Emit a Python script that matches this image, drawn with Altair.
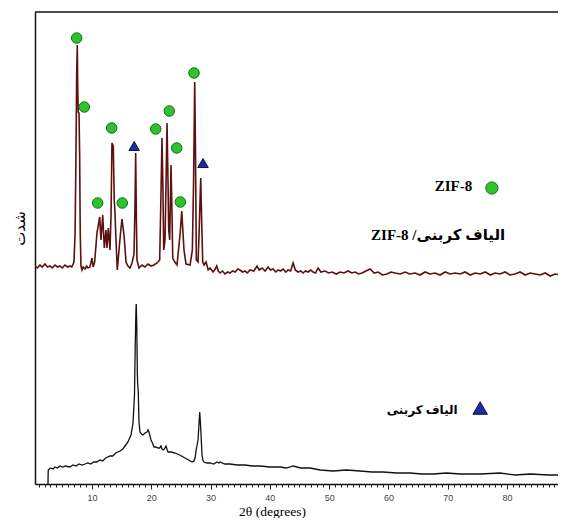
import altair as alt
import pandas as pd

# ---- data (2θ in degrees, intensity in arbitrary units) ----
zif_cf_2theta = [0.38, 0.8, 1.23, 1.6, 2.07, 2.5, 2.91, 3.3, 3.76, 4.2, 4.6, 5.0, 5.44, 5.9, 6.29, 6.6, 6.96, 7.15, 7.30, 7.42, 7.52, 7.60, 7.68, 7.81, 7.92, 8.02, 8.14, 8.31, 8.5, 8.82, 9.1, 9.33, 9.66, 10.0, 10.2, 10.45, 10.84, 11.05, 11.30, 11.52, 11.81, 12.08, 12.36, 12.53, 12.75, 13.04, 13.22, 13.37, 13.59, 13.76, 13.88, 14.05, 14.27, 14.56, 14.8, 15.06, 15.40, 15.74, 16.07, 16.41, 16.75, 17.09, 17.26, 17.37, 17.48, 17.59, 17.93, 18.44, 18.94, 19.45, 19.96, 20.46, 20.97, 21.42, 21.64, 21.81, 21.98, 22.10, 22.32, 22.49, 22.66, 22.83, 22.94, 23.11, 23.33, 23.50, 23.62, 23.96, 24.34, 24.68, 24.93, 25.14, 25.36, 25.52, 25.86, 26.54, 26.93, 27.13, 27.33, 27.46, 27.60, 27.89, 28.06, 28.34, 28.51, 28.68, 28.90, 29.24, 29.6, 29.91, 30.42, 30.8, 31.04, 31.3, 31.60, 32.0, 32.44, 32.9, 33.29, 33.7, 34.13, 34.6, 34.97, 35.4, 35.82, 36.2, 36.66, 37.3, 37.84, 38.2, 38.69, 39.2, 39.70, 40.1, 40.54, 41.0, 41.39, 41.8, 42.23, 42.7, 43.07, 43.5, 43.92, 44.3, 44.76, 45.2, 45.61, 46.0, 46.45, 46.9, 47.29, 47.7, 48.14, 48.6, 49.32, 49.9, 50.50, 51.2, 51.85, 52.5, 53.20, 53.8, 54.38, 55.0, 55.56, 56.2, 56.91, 57.6, 58.26, 59.0, 59.78, 60.4, 61.13, 62.0, 62.82, 63.6, 64.51, 65.3, 66.19, 67.0, 67.88, 68.7, 69.57, 70.4, 71.26, 72.1, 72.94, 73.8, 74.63, 75.5, 76.32, 77.2, 78.01, 78.8, 79.69, 80.5, 81.38, 82.2, 83.07, 83.9, 84.76, 85.6, 86.44, 87.3, 88.13, 89.0, 89.82]
zif_cf_intensity = [218, 216, 219, 217, 220, 217, 218, 216, 219, 217, 218, 216, 219, 217, 218, 217, 222, 250, 330, 410, 439, 395, 372, 371, 330, 250, 218, 214, 217, 215, 218, 216, 217, 226, 217, 222, 251, 258, 267, 244, 269, 236, 254, 236, 256, 234, 270, 341, 338, 284, 271, 244, 214, 234, 250, 265, 249, 222, 218, 216, 221, 230, 280, 331, 270, 224, 216, 219, 217, 220, 218, 219, 221, 224, 290, 346, 290, 234, 244, 300, 361, 300, 254, 244, 319, 270, 226, 222, 219, 239, 255, 273, 250, 234, 220, 219, 234, 300, 402, 330, 224, 222, 250, 306, 260, 222, 219, 222, 214, 216, 212, 215, 218, 213, 211, 213, 210, 212, 211, 213, 212, 215, 214, 212, 213, 211, 214, 213, 218, 214, 216, 213, 217, 214, 215, 212, 214, 213, 215, 212, 214, 213, 221, 214, 212, 213, 211, 213, 212, 214, 212, 211, 216, 212, 213, 211, 212, 210, 212, 211, 213, 211, 212, 210, 211, 213, 215, 211, 212, 209, 210, 212, 211, 210, 212, 210, 211, 209, 212, 210, 211, 209, 212, 210, 211, 210, 212, 209, 211, 210, 212, 209, 211, 210, 212, 209, 210, 212, 209, 211, 210, 209, 211, 208, 210, 209, 210]

cf_2theta = [2.58, 2.62, 3.0, 3.4, 3.76, 4.2, 4.60, 5.1, 5.5, 6.29, 6.8, 7.3, 7.8, 8.3, 8.82, 9.3, 9.8, 10.3, 10.8, 11.35, 11.8, 12.3, 13.04, 13.5, 14.0, 14.73, 15.2, 15.57, 16.07, 16.58, 16.92, 17.17, 17.30, 17.42, 17.47, 17.55, 17.65, 17.71, 17.81, 17.93, 18.10, 18.35, 18.61, 18.95, 19.28, 19.45, 19.62, 19.96, 20.2, 20.46, 20.8, 21.14, 21.4, 21.64, 21.8, 21.98, 22.2, 22.49, 22.7, 22.83, 23.4, 24.01, 24.8, 25.69, 26.3, 26.87, 27.2, 27.38, 27.6, 27.89, 28.05, 28.17, 28.3, 28.39, 28.56, 28.7, 28.90, 29.4, 29.91, 30.5, 31.09, 31.4, 31.60, 32.4, 33.29, 34.5, 35.82, 37.0, 38.35, 40.0, 41.73, 42.8, 43.92, 45.2, 46.79, 48.5, 50.67, 52.9, 55.23, 57.2, 59.11, 61.4, 63.66, 65.6, 67.54, 69.8, 72.10, 75.5, 78.85, 81.4, 83.91, 87.0, 89.99]
cf_intensity = [0, 14, 16, 15, 17, 16, 18, 17, 18, 17, 19, 18, 20, 19, 20, 21, 20, 22, 22, 24, 23, 26, 28, 28, 31, 33, 35, 38, 42, 49, 61, 89, 140, 175, 180, 160, 110, 100, 92, 62, 52, 50, 49, 51, 52, 54, 52, 44, 41, 37, 37, 36, 36, 38, 35, 34, 35, 38, 34, 32, 32, 31, 29, 26, 24, 22, 23, 26, 35, 44, 60, 72, 60, 50, 29, 24, 22, 21, 21, 20, 22, 21, 22, 20, 20, 19, 19, 18, 18, 17, 17, 16, 18, 16, 16, 14, 13, 14, 13, 12, 12, 11, 11, 10, 10, 11, 10, 10, 11, 9, 10, 9, 9]

zif_peak_2theta = [7.42, 8.70, 10.96, 13.32, 15.11, 20.75, 23.04, 24.29, 24.90, 27.21]
zif_peak_intensity = [446, 377, 281, 356, 281, 355, 373, 336, 282, 411]
cf_peak_2theta = [17.12, 28.73]
cf_peak_intensity = [338, 321]

legend_circle = {"x": [77.45], "y": [296]}
legend_triangle = {"x": [75.47], "y": [76]}
label_zif = {"x": [74.12], "y": [298], "t": ["ZIF-8"]}
label_comp = {"x": [68.39], "y": [249], "t": ["ZIF-8 /الیاف کربنی"]}
label_cf = {"x": [65.69], "y": [74], "t": ["الیاف کربنی"]}

x_ticks = list(range(1, 89))

W, H = 523, 472

X = alt.X(
    "x:Q",
    scale=alt.Scale(domain=[0.39, 88.6], nice=False, zero=False),
    axis=alt.Axis(
        values=x_ticks,
        labelExpr="datum.value % 10 === 0 ? datum.label : ''",
        labelOverlap=False,
        tickSize={"condition": {"test": "datum.value % 10 === 0", "value": 5}, "value": 3},
        tickColor="#222",
        tickWidth=1,
        grid=False,
        domainColor="#111",
        domainWidth=1.5,
        labelFont="Liberation Sans",
        labelFontSize=9,
        labelColor="#444",
        labelPadding=4,
        title="2θ (degrees)",
        titleFont="Liberation Serif",
        titleFontSize=13.5,
        titleFontWeight="normal",
        titleColor="#000",
        titleX=237,
        titleY=27,
        titleBaseline="middle",
    ),
)
Y = alt.Y(
    "y:Q",
    scale=alt.Scale(domain=[0, 472], nice=False, zero=False),
    axis=alt.Axis(
        labels=False,
        ticks=False,
        grid=False,
        domainColor="#111",
        domainWidth=1.5,
        title="شدت",
        titleFont="Liberation Serif, DejaVu Sans",
        titleFontSize=15,
        titleFontWeight="normal",
        titleColor="#000",
        titlePadding=8,
        titleY=216,
    ),
)

up = pd.DataFrame({"x": zif_cf_2theta, "y": zif_cf_intensity})
low = pd.DataFrame({"x": cf_2theta, "y": cf_intensity})
zp = pd.DataFrame({"x": zif_peak_2theta, "y": zif_peak_intensity})
cp = pd.DataFrame({"x": cf_peak_2theta, "y": cf_peak_intensity})

line_up = alt.Chart(up).mark_line(color="#5e0f0f", strokeWidth=1.6, clip=True).encode(x=X, y=Y)
line_low = alt.Chart(low).mark_line(color="#111111", strokeWidth=1.3, clip=True).encode(x=X, y=Y)

circles = alt.Chart(zp).mark_point(
    shape="circle", filled=True, size=110, fill="#2fc22f", stroke="#137013", strokeWidth=1, opacity=1
).encode(x=X, y=Y)
tris = alt.Chart(cp).mark_point(
    shape="triangle-up", filled=True, size=110, fill="#1f2a9e", stroke="#0c1250", strokeWidth=1, opacity=1
).encode(x=X, y=Y)

leg_c = alt.Chart(pd.DataFrame(legend_circle)).mark_point(
    shape="circle", filled=True, size=150, fill="#2fc22f", stroke="#137013", strokeWidth=1, opacity=1
).encode(x=X, y=Y)
leg_t = alt.Chart(pd.DataFrame(legend_triangle)).mark_point(
    shape="triangle-up", filled=True, size=210, fill="#1f2a9e", stroke="#0c1250", strokeWidth=1, opacity=1
).encode(x=X, y=Y)

t_zif = alt.Chart(pd.DataFrame(label_zif)).mark_text(
    align="right", baseline="middle", font="Liberation Serif", fontSize=15, fontWeight="bold", color="#000"
).encode(x=X, y=Y, text="t:N")
t_comp = alt.Chart(pd.DataFrame(label_comp)).mark_text(
    align="center", baseline="middle", font="Liberation Serif, DejaVu Sans", fontSize=15, fontWeight="bold", color="#000"
).encode(x=X, y=Y, text="t:N")
t_cf = alt.Chart(pd.DataFrame(label_cf)).mark_text(
    align="center", baseline="middle", font="Liberation Serif, DejaVu Sans", fontSize=12, fontWeight="bold", color="#000"
).encode(x=X, y=Y, text="t:N")

top_rule = alt.Chart(pd.DataFrame({"k": [0]})).mark_rule(color="#111", strokeWidth=1.5).encode(
    x=alt.value(0), x2=alt.value(W), y=alt.value(0)
)

chart = alt.layer(
    line_up, line_low, circles, tris, leg_c, leg_t, t_zif, t_comp, t_cf, top_rule
).properties(
    width=W,
    height=H,
    autosize=alt.AutoSizeParams(type="none"),
    padding={"left": 27, "top": 4, "right": 0, "bottom": 34},
    background="white",
).configure_view(stroke=None)

chart.save("out.html", embed_options={"renderer": "svg", "actions": False})
